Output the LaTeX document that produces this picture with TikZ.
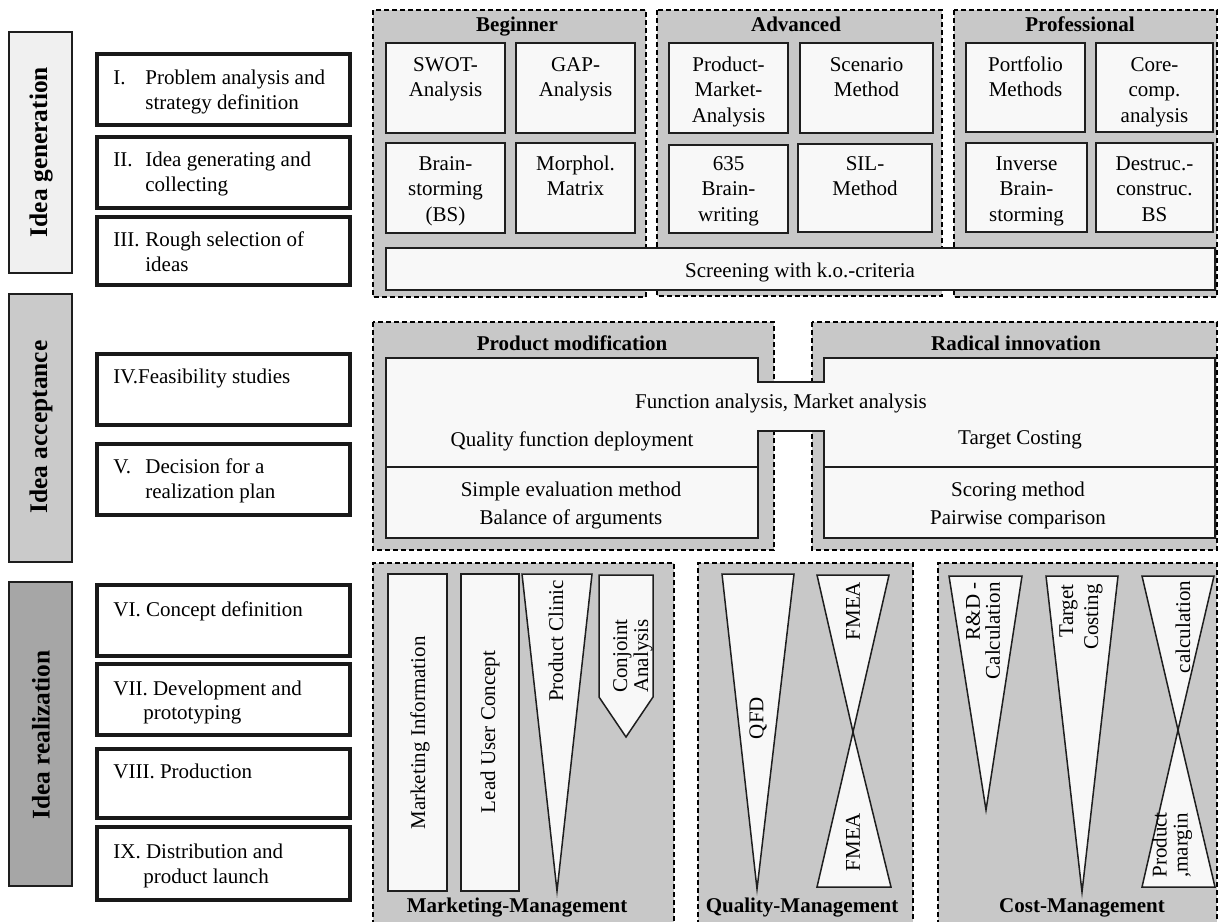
\documentclass[tikz,border=0pt]{standalone}
\usepackage{fontspec}
\setmainfont{Liberation Serif}
\definecolor{panelgray}{RGB}{200,200,200}
\definecolor{boxfill}{RGB}{248,248,248}
\definecolor{genfill}{RGB}{240,240,240}
\definecolor{accfill}{RGB}{202,202,202}
\definecolor{realfill}{RGB}{166,166,166}
\definecolor{edge}{RGB}{30,30,30}
\tikzset{
  txt/.style={inner sep=0pt, font=\fontsize{10.5pt}{12.8pt}\selectfont},
  btxt/.style={inner sep=0pt, font=\fontsize{10.5pt}{12.8pt}\selectfont\bfseries},
  phasetxt/.style={inner sep=0pt, rotate=90, font=\fontsize{12.7pt}{14pt}\selectfont\bfseries},
  phase/.style={draw=edge, line width=0.75pt},
  stepbox/.style={draw=black!90, line width=2pt, fill=white},
  panel/.style={fill=panelgray},
  dashline/.style={draw=black, line width=0.75pt, dash pattern=on 2.5pt off 1.5pt},
  inbox/.style={draw=edge, line width=0.75pt, fill=boxfill},
  mtxt/.style={txt, align=center, anchor=north},
  rtxt/.style={txt, rotate=90},
  sl/.style={txt, anchor=base west},
}
\begin{document}
\begin{tikzpicture}[x=0.5pt, y=-0.5pt]
\useasboundingbox (0,0) rectangle (1219,921);

% ---------- phase bars ----------
\draw[phase, fill=genfill] (9,32) rectangle (72,273);
\node[phasetxt] (pgen) at (41,152) {Idea generation};
\draw[phase, fill=accfill] (9,294) rectangle (72,562);
\node[phasetxt] (pacc) at (41,427) {Idea acceptance};
\draw[phase, fill=realfill] (9,582) rectangle (72,886);
\node[phasetxt] (preal) at (41,735) {Idea realization};

% ---------- steps ----------
\draw[stepbox] (97,54) rectangle (350,125);
\node[sl] (n1) at (113,84) {I.};
\node[sl] (s1a) at (145,84) {Problem analysis and};
\node[sl] (s1b) at (145,109) {strategy definition};

\draw[stepbox] (97,137) rectangle (350,208);
\node[sl] (n2) at (113,166) {II.};
\node[sl] (s2a) at (145,166) {Idea generating and};
\node[sl] (s2b) at (145,191) {collecting};

\draw[stepbox] (97,217) rectangle (350,285);
\node[sl] (n3) at (113,246) {III.};
\node[sl] (s3a) at (145,246) {Rough selection of};
\node[sl] (s3b) at (145,271) {ideas};

\draw[stepbox] (97,354) rectangle (350,425);
\node[sl] (s4a) at (113,383) {IV.Feasibility studies};

\draw[stepbox] (97,444) rectangle (350,515);
\node[sl] (n5) at (113,473) {V.};
\node[sl] (s5a) at (145,473) {Decision for a};
\node[sl] (s5b) at (145,498) {realization plan};

\draw[stepbox] (97,585) rectangle (350,656);
\node[sl] (s6a) at (113,616) {VI. Concept definition};

\draw[stepbox] (97,664) rectangle (350,735);
\node[sl] (s7a) at (113,695) {VII. Development and};
\node[sl] (s7b) at (143,719) {prototyping};

\draw[stepbox] (97,749) rectangle (350,818);
\node[sl] (s8a) at (113,778) {VIII. Production};

\draw[stepbox] (97,827) rectangle (350,900);
\node[sl] (s9a) at (113,858) {IX. Distribution and};
\node[sl] (s9b) at (143,883) {product launch};

% ---------- idea generation panels ----------
\fill[panel] (373,10) rectangle (646,297);
\draw[dashline] (373,10) rectangle (646,297);
\fill[panel] (657,10) rectangle (942,296);
\draw[dashline] (657,10) rectangle (942,296);
\fill[panel] (954,10) rectangle (1217,297);
\draw[dashline] (954,10) rectangle (1217,297);

\node[btxt, anchor=base] (hbeg) at (517,32) {Beginner};
\node[btxt, anchor=base] (hadv) at (796,32) {Advanced};
\node[btxt, anchor=base] (hpro) at (1080,32) {Professional};

\draw[inbox] (386,43) rectangle (505,133);
\node[mtxt] (swot) at (445.5,53) {\strut SWOT-\\Analysis};
\draw[inbox] (516,43) rectangle (635,133);
\node[mtxt] (gap) at (575.5,53) {\strut GAP-\\Analysis};
\draw[inbox] (386,143) rectangle (505,233);
\node[mtxt] (bs) at (445.5,152) {\strut Brain-\\storming\\(BS)};
\draw[inbox] (516,143) rectangle (635,233);
\node[mtxt] (morph) at (575.5,152) {\strut Morphol.\\Matrix};

\draw[inbox] (669,43) rectangle (788,133);
\node[mtxt] (pma) at (728.5,53) {\strut Product-\\Market-\\Analysis};
\draw[inbox] (800,43) rectangle (933,133);
\node[mtxt] (scen) at (866.5,53) {\strut Scenario\\Method};
\draw[inbox] (669,145) rectangle (788,233);
\node[mtxt] (bw) at (728.5,152) {\strut 635\\Brain-\\writing};
\draw[inbox] (798,144) rectangle (932,232);
\node[mtxt] (sil) at (865,152) {\strut SIL-\\Method};

\draw[inbox] (966,43) rectangle (1085,132);
\node[mtxt] (port) at (1025.5,53) {\strut Portfolio\\Methods};
\draw[inbox] (1096,43) rectangle (1213,132);
\node[mtxt] (core) at (1154.5,53) {\strut Core-\\comp.\\analysis};
\draw[inbox] (966,143) rectangle (1087,232);
\node[mtxt] (inv) at (1026.5,152) {\strut Inverse\\Brain-\\storming};
\draw[inbox] (1096,143) rectangle (1213,232);
\node[mtxt] (dest) at (1154.5,152) {\strut Destruc.-\\construc.\\BS};

\draw[inbox] (386,248) rectangle (1215,290);
\node[txt, anchor=base] (scr) at (800,277) {Screening with k.o.-criteria};

% ---------- idea acceptance panels ----------
\fill[panel] (373,322) rectangle (774,550);
\draw[dashline] (373,322) rectangle (774,550);
\fill[panel] (812,322) rectangle (1217,550);
\draw[dashline] (812,322) rectangle (1217,550);
\node[btxt, anchor=base] (hpm) at (572,350) {Product modification};
\node[btxt, anchor=base] (hri) at (1016,350) {Radical innovation};

\draw[inbox] (386,358) -- (758,358) -- (758,382) -- (824,382) -- (824,358)
  -- (1215,358) -- (1215,467) -- (824,467) -- (824,431) -- (758,431)
  -- (758,467) -- (386,467) -- cycle;
\draw[inbox] (386,467) rectangle (758,538);
\draw[inbox] (824,467) rectangle (1215,538);
\draw[edge, line width=1.1pt] (386,467) -- (758,467);
\draw[edge, line width=1.1pt] (824,467) -- (1215,467);

\node[txt, anchor=base] (fa) at (781,408) {Function analysis, Market analysis};
\node[txt, anchor=base] (qfd1) at (572,446) {Quality function deployment};
\node[txt, anchor=base] (tc1) at (1020,444) {Target Costing};
\node[txt, anchor=base] (sem) at (571,496) {Simple evaluation method};
\node[txt, anchor=base] (boa) at (571,524) {Balance of arguments};
\node[txt, anchor=base] (scm) at (1018,496) {Scoring method};
\node[txt, anchor=base] (pwc) at (1018,524) {Pairwise comparison};

% ---------- idea realization panels ----------
\fill[panel] (373,563) rectangle (674,925);
\draw[dashline] (373,925) -- (373,563) -- (674,563) -- (674,925);
\fill[panel] (698,563) rectangle (913,925);
\draw[dashline] (698,925) -- (698,563) -- (913,563) -- (913,925);
\fill[panel] (938,563) rectangle (1217,925);
\draw[dashline] (938,925) -- (938,563) -- (1217,563) -- (1217,925);

% marketing
\draw[inbox] (388,574) rectangle (447,891);
\node[rtxt] (mi) at (420,733) {Marketing Information};
\draw[inbox] (461,574) rectangle (519,891);
\node[rtxt] (luc) at (490,732) {Lead User Concept};
\draw[inbox] (522,574) -- (592,574) -- (557,891) -- cycle;
\node[rtxt] (pc) at (556,641) {Product Clinic};
\draw[inbox] (599,575) -- (653,575) -- (653,697) -- (626,737) -- (599,697) -- cycle;
\node[rtxt, align=center, font=\fontsize{10.5pt}{10.5pt}\selectfont] (ca) at (633,656) {Conjoint\\Analysis};
\node[btxt, anchor=base] (hmm) at (517,912) {Marketing-Management};

% quality
\draw[inbox] (722,574) -- (794,574) -- (757,889) -- cycle;
\node[rtxt] (qfd) at (758,718) {QFD};
\draw[inbox] (817,575) -- (889,575) -- (853,732) -- cycle;
\draw[inbox] (853,732) -- (891,887) -- (817,887) -- cycle;
\node[rtxt] (fm1) at (853,611) {FMEA};
\node[rtxt] (fm2) at (853,842) {FMEA};
\node[btxt, anchor=base] (hqm) at (802,912) {Quality-Management};

% cost
\draw[inbox] (949,576) -- (1022,576) -- (986,810) -- cycle;
\node[rtxt, align=right, anchor=east, font=\fontsize{10.5pt}{10pt}\selectfont] (rd) at (983,582) {R\&D -\\Calculation};
\draw[inbox] (1046,576) -- (1118,576) -- (1082,892) -- cycle;
\node[rtxt, align=right, anchor=east, font=\fontsize{10.5pt}{12.5pt}\selectfont] (tc2) at (1081,584) {Target\\Costing};
\draw[inbox] (1142,576) -- (1214,576) -- (1178,730) -- cycle;
\draw[inbox] (1178,730) -- (1215,887) -- (1142,887) -- cycle;
\node[rtxt] (calc) at (1183,627) {calculation};
\node[rtxt, align=left, anchor=west, font=\fontsize{10.5pt}{10.5pt}\selectfont] (pm) at (1172,878) {Product\\,margin};
\node[btxt, anchor=base] (hcm) at (1082,912) {Cost-Management};

\end{tikzpicture}
\end{document}
